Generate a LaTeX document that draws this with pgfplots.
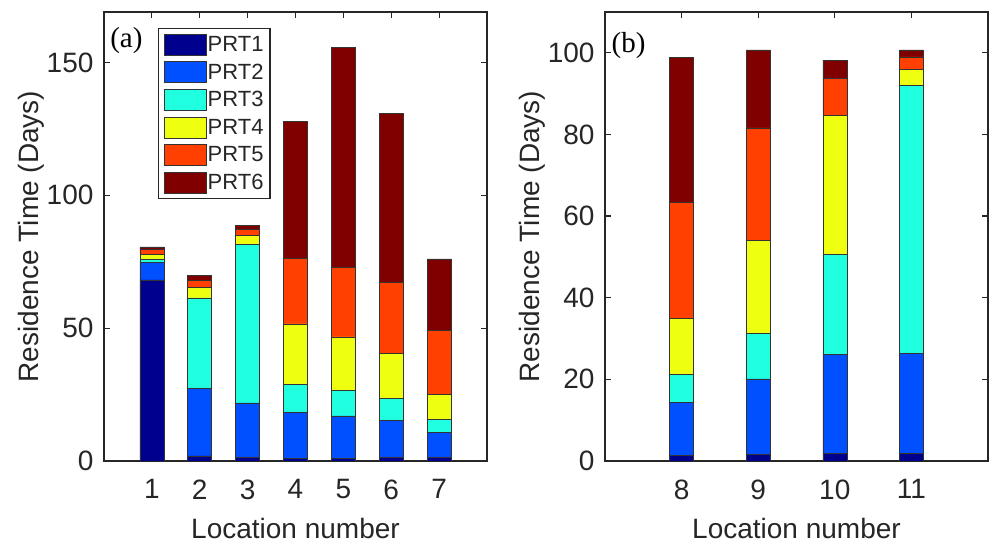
\documentclass[border=0pt]{standalone}
\usepackage{fontspec}
\setmainfont{Liberation Sans}
\newfontfamily\panelfont{Liberation Serif}
\usepackage{pgfplots}
\usepackage{pgfplotstable}
\pgfplotsset{compat=1.18}

\definecolor{mgray}{RGB}{38,38,38}
\definecolor{prtA}{RGB}{0,0,143}
\definecolor{prtB}{RGB}{0,80,255}
\definecolor{prtC}{RGB}{32,255,223}
\definecolor{prtD}{RGB}{239,255,16}
\definecolor{prtE}{RGB}{255,64,0}
\definecolor{prtF}{RGB}{128,0,0}

\newcommand\lgd[1]{{\fontsize{22}{25}\selectfont #1}}

% stacked residence times per location, PRT1..PRT6
\pgfplotstableread{
loc p1   p2   p3   p4   p5   p6
1   68.2 6.7  1.0  2.0  1.7  1.0
2   1.9  25.3 34.2 3.9  2.7  2.0
3   1.3  20.6 59.6 3.5  2.3  1.5
4   1.1  17.3 10.5 22.7 24.8 51.4
5   1.1  15.9 9.7  20.0 26.3 82.8
6   1.3  14.1 8.3  16.8 26.8 63.4
7   1.3  9.4  5.1  9.4  24.0 26.9
}\dataA
\pgfplotstableread{
loc p1   p2   p3   p4   p5   p6
8   1.4  12.9 6.9  13.7 28.4 35.6
9   1.6  18.5 11.1 22.8 27.6 19.1
10  1.9  24.3 24.5 33.9 9.1  4.5
11  1.9  24.4 65.7 4.0  3.0  1.7
}\dataB

\pgfplotsset{
  resbase/.style={
    scale only axis, width=383pt, height=449pt,
    ybar stacked, bar width=24pt,
    ymin=0,
    tick align=inside,
    major tick length=6pt,
    axis line style={mgray, line width=1.4pt},
    every tick/.style={mgray, line width=1.2pt},
    /pgf/number format/assume math mode=true,
    ticklabel style={font=\fontsize{28}{32}\selectfont, text=mgray},
    xticklabel style={yshift=-15pt},
    yticklabel style={xshift=-7pt},
    label style={font=\fontsize{28}{32}\selectfont, text=mgray},
    xlabel style={yshift=-12pt},
    ylabel style={yshift=-4pt},
    xlabel={Location number},
    ylabel={Residence Time (Days)},
    every axis plot/.append style={draw=black!80, line width=0.6pt},
  },
}

\begin{document}
\begin{tikzpicture}
\path[use as bounding box] (0,0) rectangle (991pt,543pt);

\begin{axis}[resbase,
  at={(104pt,82pt)}, anchor=south west,
  xmin=0, xmax=8, ymax=169,
  xtick={1,2,3,4,5,6,7},
  ytick={0,50,100,150},
  legend cell align=left,
  legend image code/.code={\draw[#1, line width=0.6pt] (0pt,-10.5pt) rectangle (42pt,10.5pt);},
  legend style={at={(0.141,0.964)}, anchor=north west,
    draw=mgray, line width=1.2pt, text=mgray,
    row sep=6pt, inner xsep=5pt, inner ysep=5pt,
    nodes={inner sep=1.5pt}},
]
\addplot[fill=prtA] table[x=loc, y=p1] {\dataA};
\addplot[fill=prtB] table[x=loc, y=p2] {\dataA};
\addplot[fill=prtC] table[x=loc, y=p3] {\dataA};
\addplot[fill=prtD] table[x=loc, y=p4] {\dataA};
\addplot[fill=prtE] table[x=loc, y=p5] {\dataA};
\addplot[fill=prtF] table[x=loc, y=p6] {\dataA};
\legend{\lgd{PRT1},\lgd{PRT2},\lgd{PRT3},\lgd{PRT4},\lgd{PRT5},\lgd{PRT6}}
\node[anchor=north west, font=\panelfont\fontsize{29}{32}\selectfont, inner sep=0pt]
  at (rel axis cs:0.016,0.967) {(a)};
\end{axis}

\begin{axis}[resbase,
  at={(605pt,82pt)}, anchor=south west,
  xmin=7, xmax=12, ymax=110,
  xtick={8,9,10,11},
  ytick={0,20,40,60,80,100},
]
\addplot[fill=prtA] table[x=loc, y=p1] {\dataB};
\addplot[fill=prtB] table[x=loc, y=p2] {\dataB};
\addplot[fill=prtC] table[x=loc, y=p3] {\dataB};
\addplot[fill=prtD] table[x=loc, y=p4] {\dataB};
\addplot[fill=prtE] table[x=loc, y=p5] {\dataB};
\addplot[fill=prtF] table[x=loc, y=p6] {\dataB};
\node[anchor=north west, font=\panelfont\fontsize{29}{32}\selectfont, inner sep=0pt]
  at (rel axis cs:0.017,0.956) {(b)};
\end{axis}
\end{tikzpicture}
\end{document}
